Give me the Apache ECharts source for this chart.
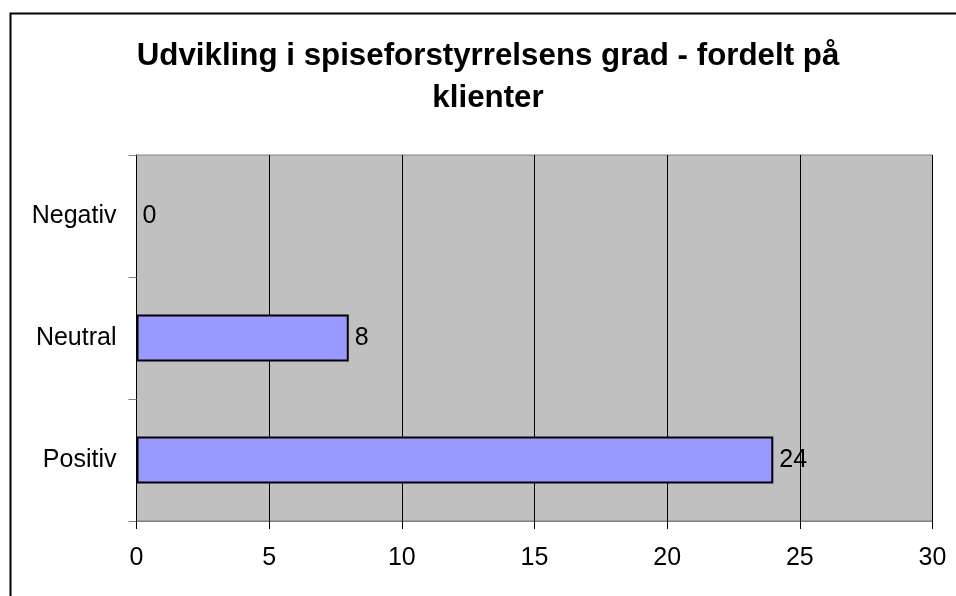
<!DOCTYPE html>
<html>
<head>
<meta charset="utf-8">
<script src="https://cdn.jsdelivr.net/npm/echarts@6/dist/echarts.min.js"></script>
<style>
html,body{margin:0;padding:0;background:#fff;}
#chart{width:956px;height:596px;}
</style>
</head>
<body>
<div id="chart"></div>
<script>
var titleText = 'Udvikling i spiseforstyrrelsens grad - fordelt på\nklienter';
var categories = ['Positiv', 'Neutral', 'Negativ'];
var values = [24, 8, 0];
var xMin = 0, xMax = 30, xStep = 5;

var chart = echarts.init(document.getElementById('chart'));
var font = '"Liberation Sans", Arial, sans-serif';
chart.setOption({
  animation: false,
  backgroundColor: '#ffffff',
  title: {
    text: titleText,
    left: 483, textAlign: 'center',
    top: 30,
    textStyle: { fontFamily: font, fontWeight: 'bold', fontSize: 31.3, lineHeight: 42, color: '#000' }
  },
  graphic: [{
    type: 'rect', left: 8, top: 11, silent: true,
    shape: { x: 0, y: 0, width: 1000, height: 1000 },
    style: { fill: 'none', stroke: '#000', lineWidth: 2 }
  }],
  grid: {
    left: 136.5, right: 23.5, top: 155, bottom: 75,
    show: true, backgroundColor: '#C0C0C0', borderColor: '#808080', borderWidth: 1
  },
  xAxis: {
    type: 'value', min: xMin, max: xMax, interval: xStep,
    axisLine: { show: true, lineStyle: { color: '#808080', width: 1 } },
    axisTick: { show: true, length: 8, lineStyle: { color: '#000' } },
    splitLine: { show: true, lineStyle: { color: '#000', width: 1 } },
    axisLabel: { fontFamily: font, fontSize: 25, color: '#000', margin: 25 }
  },
  yAxis: {
    type: 'category', data: categories,
    axisLine: { show: true, lineStyle: { color: '#000', width: 1 } },
    axisTick: { show: true, length: 8, alignWithLabel: false, lineStyle: { color: '#808080' } },
    axisLabel: { fontFamily: font, fontSize: 25, color: '#000', margin: 20 }
  },
  series: [{
    type: 'bar', barWidth: 47,
    data: values.map(function (v) {
      return { value: v, itemStyle: { borderWidth: v === 0 ? 0 : 2 } };
    }),
    itemStyle: { color: '#9999FF', borderColor: '#000', borderWidth: 2 },
    label: { show: true, position: 'right', distance: 6, fontFamily: font, fontSize: 25, color: '#000' }
  }]
});
</script>
</body>
</html>
